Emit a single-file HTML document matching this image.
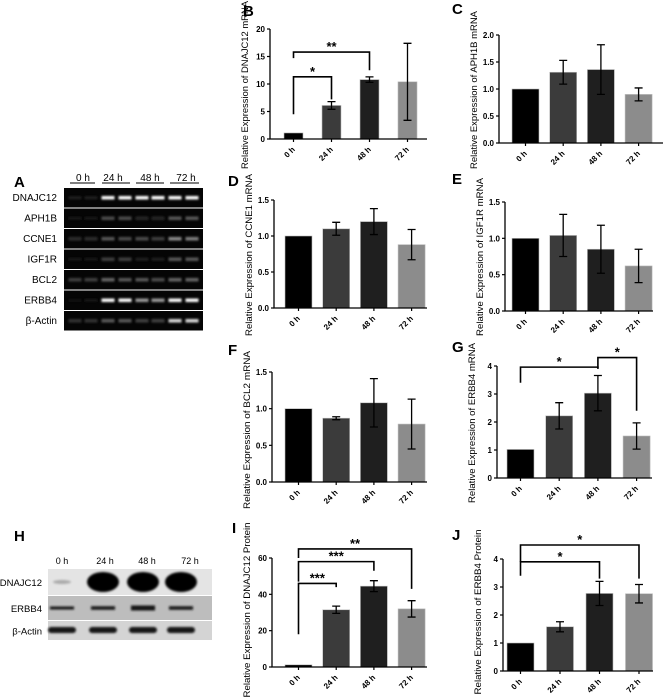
<!DOCTYPE html>
<html><head><meta charset="utf-8"><style>
html,body{margin:0;padding:0;background:#fff;}
svg{display:block;font-family:"Liberation Sans",Arial,sans-serif;}
</style></head><body>
<svg id="fig" width="664" height="699" viewBox="0 0 664 699">
<defs>
<filter id="blur1" x="-50%" y="-200%" width="200%" height="500%"><feGaussianBlur stdDeviation="1"/></filter>
</defs>
</svg>
<script>
const NS='http://www.w3.org/2000/svg';
const svg=document.getElementById('fig');
const categories=['0 h','24 h','48 h','72 h'];
const barColors=['#000000','#3b3b3b','#1f1f1f','#8c8c8c'];

const bValues=[1.1,6.1,10.8,10.4];
const bErrors=[0,0.7,0.5,7.0];
const bTicks=[0,5,10,15,20];
const cValues=[1.0,1.31,1.36,0.9];
const cErrors=[0,0.22,0.46,0.12];
const cTicks=[0,0.5,1.0,1.5,2.0];
const dValues=[1.0,1.1,1.2,0.88];
const dErrors=[0,0.09,0.18,0.21];
const dTicks=[0,0.5,1.0,1.5];
const eValues=[1.0,1.04,0.85,0.62];
const eErrors=[0,0.29,0.33,0.23];
const eTicks=[0,0.5,1.0,1.5];
const fValues=[1.0,0.87,1.08,0.79];
const fErrors=[0,0.02,0.33,0.34];
const fTicks=[0,0.5,1.0,1.5];
const gValues=[1.02,2.22,3.03,1.5];
const gErrors=[0,0.47,0.63,0.47];
const gTicks=[0,1,2,3,4];
const iValues=[1.2,31.5,44.5,32];
const iErrors=[0,2,3,4.5];
const iTicks=[0,20,40,60];
const jValues=[1.0,1.58,2.77,2.76];
const jErrors=[0,0.18,0.43,0.33];
const jTicks=[0,1,2,3,4];

// significance brackets: [fromIdx, toIdx, topValue, fromEndValue, toEndValue, label]
const bBrackets=[[0,1,11.3,4.5,7.2,'*'],[0,2,15.8,14.7,12.5,'**']];
const gBrackets=[[0,2,3.96,3.4,3.9,'*'],[2,3,4.3,3.9,2.4,'*']];
const iBrackets=[[0,1,46,18,44,'***'],[0,2,58,47,53,'***'],[0,3,65,60,43,'**']];
const jBrackets=[[0,2,3.9,3.4,3.3,'*'],[0,3,4.5,3.9,3.3,'*']];

function el(tag,attrs,parent){const e=document.createElementNS(NS,tag);for(const k in attrs)e.setAttribute(k,attrs[k]);(parent||svg).appendChild(e);return e;}
function txt(s,attrs,parent){const t=el('text',attrs,parent);t.textContent=s;return t;}

function drawPanel(key,letter,lx,ly,ax,yBase,yTop,xEnd,maxV,ticks,values,errors,brackets,title,bw,off,pitch,tlen,tmid){
  const g=el('g',{});
  
  
  const pl=txt(letter,{x:lx,y:ly,'font-size':15,'font-weight':'bold',fill:'#000'},g);
  
  
  const Y=v=>yBase-(v/maxV)*(yBase-yTop);
  const X=i=>ax+off+i*pitch;
  values.forEach((v,i)=>{
    const r=el('rect',{x:X(i),y:Y(v),width:bw,height:yBase-Y(v),fill:barColors[i],stroke:'#bbb','stroke-width':0.6},g);
    
    
  });
  values.forEach((v,i)=>{
    if(!errors[i])return;
    const cx=X(i)+bw/2, y1=Y(v+errors[i]), y2=Y(v-errors[i]);
    const e=el('path',{d:`M${cx},${y1}V${y2}M${cx-4},${y1}H${cx+4}M${cx-4},${y2}H${cx+4}`,stroke:'#000','stroke-width':1.3,fill:'none'},g);
    
    
  });
  const axes=el('path',{d:`M${ax},${yTop}V${yBase}H${xEnd}`,stroke:'#000','stroke-width':1.3,fill:'none'},g);
  
  
  ticks.forEach(t=>{
    el('line',{x1:ax-3,x2:ax,y1:Y(t),y2:Y(t),stroke:'#000','stroke-width':1.2},g);
    const tl=txt(String(maxV<=2?t.toFixed(1):t),{x:ax-5,y:Y(t)+3,'font-size':8,'font-weight':'bold','text-anchor':'end'},g);
    
    
  });
  categories.forEach((c,i)=>{
    const cx=X(i)+bw/2;
    el('line',{x1:cx,x2:cx,y1:yBase,y2:yBase+3,stroke:'#000','stroke-width':1.2},g);
    const xl=txt(c,{x:cx+2,y:yBase+11,'font-size':8,'font-weight':'bold','text-anchor':'end',transform:`rotate(-45 ${cx+2} ${yBase+11})`},g);
    
    
  });
  const mid=tmid;
  const tx=ax-22;
  const yt=txt(title,{x:tx,y:mid,'font-size':9.5,'text-anchor':'middle',textLength:tlen,lengthAdjust:'spacingAndGlyphs',transform:`rotate(-90 ${tx} ${mid})`},g);
  
  
  (brackets||[]).forEach(b=>{
    const x1=X(b[0])+bw/2,x2=X(b[1])+bw/2,yt2=Y(b[2]);
    const p=el('path',{d:`M${x1},${Y(b[3])}V${yt2}H${x2}V${Y(b[4])}`,stroke:'#000','stroke-width':1.6,fill:'none'},g);
    
    
    const s=txt(b[5],{x:(x1+x2)/2,y:yt2-1,'font-size':13,'font-weight':'bold','text-anchor':'middle'},g);
    
    
  });
}

drawPanel('b','B',243,16,270,139,29,427,20,bTicks,bValues,bErrors,bBrackets,'Relative Expression of DNAJC12 mRNA',19,14,38,168,85);
drawPanel('c','C',452,14,499,143,35,663,2,cTicks,cValues,cErrors,null,'Relative Expression of APH1B mRNA',27,13,37.7,158,90);
drawPanel('d','D',228,186,274,308,200,427,1.5,dTicks,dValues,dErrors,null,'Relative Expression of CCNE1 mRNA',27,11,37.7,162,255);
drawPanel('e','E',452,184,505,311,202,653,1.5,eTicks,eValues,eErrors,null,'Relative Expression of IGF1R mRNA',27,7,37.7,158,257);
drawPanel('f','F',228,355,272,482,372,427,1.5,fTicks,fValues,fErrors,null,'Relative Expression of BCL2 mRNA',27,13,37.7,158,430);
drawPanel('g','G',452,352,497,478,366,652,4,gTicks,gValues,gErrors,gBrackets,'Relative Expression of ERBB4 mRNA',27,10,38.7,160,423);
drawPanel('i','I',232,533,272,667,558,427,60,iTicks,iValues,iErrors,iBrackets,'Relative Expression of DNAJC12 Protein',27,13,37.7,175,610);
drawPanel('j','J',452,540,503,671,559,653,4,jTicks,jValues,jErrors,jBrackets,'Relative Expression of ERBB4 Protein',27,4,39.5,165,612);

// ---- Panel A: RT-PCR gel ----
const gelRows=['DNAJC12','APH1B','CCNE1','IGF1R','BCL2','ERBB4','β-Actin'];
const gelIntensity=[
 [0.12,0.12,1,1,1,1,1,1],
 [0.08,0.08,0.3,0.3,0.15,0.15,0.35,0.35],
 [0.18,0.18,0.35,0.3,0.3,0.25,0.55,0.5],
 [0.08,0.08,0.25,0.25,0.12,0.12,0.35,0.35],
 [0.25,0.25,0.4,0.35,0.35,0.3,0.4,0.4],
 [0.06,0.08,1,1,0.6,0.6,1,1],
 [0.2,0.2,0.35,0.35,0.25,0.25,0.85,0.85]];
const gA=el('g',{});


const la=txt('A',{x:14,y:187,'font-size':15,'font-weight':'bold'},gA);


[['0 h',83,70,95],['24 h',113,102,130],['48 h',150,136,164],['72 h',186,170,199]].forEach(h=>{
  const t=txt(h[0],{x:h[1],y:181,'font-size':10,'text-anchor':'middle'},gA);
  
  
  el('line',{x1:h[2],x2:h[3],y1:183,y2:183,stroke:'#000','stroke-width':1},gA);
});
const laneX=[75,91,108,125,142,158,175,192];
gelRows.forEach((r,ri)=>{
  const y=188+ri*20.5;
  const bg=el('rect',{x:64,y:y,width:139,height:19.5,fill:'#050505'},gA);
  
  
  const lt=txt(r,{x:57,y:y+13,'font-size':10,'text-anchor':'end'},gA);
  
  
  gelIntensity[ri].forEach((v,li)=>{
    const c=Math.round(255*v);
    const band=el('rect',{x:laneX[li]-6.5,y:y+8,width:13,height:3.5,fill:`rgb(${c},${c},${c})`,filter:'url(#blur1)'},gA);
    
    
  });
});

// ---- Panel H: western blot ----
const gH=el('g',{});


const lh=txt('H',{x:14,y:541,'font-size':15,'font-weight':'bold'},gH);


[['0 h',62],['24 h',105],['48 h',147],['72 h',190]].forEach(h=>{
  const t=txt(h[0],{x:h[1],y:564,'font-size':9,'text-anchor':'middle'},gH);
  
  
});
const blotX=[62,103,143,181];
const blotRows=[['DNAJC12',569,26,'#e4e4e4'],['ERBB4',596,24,'#bdbdbd'],['β-Actin',621,19,'#d4d4d4']];
blotRows.forEach(r=>{
  const bg=el('rect',{x:48,y:r[1],width:164,height:r[2],fill:r[3]},gH);
  
  
  const lt=txt(r[0],{x:42,y:r[1]+r[2]/2+4,'font-size':9.5,'text-anchor':'end'},gH);
  
  
});
const dnajBand=[0.15,1,1,1];
dnajBand.forEach((v,i)=>{
  const e=el('ellipse',{cx:blotX[i],cy:582,rx:v<0.5?9:16,ry:v<0.5?2:10,fill:v<0.5?'#aaa':'#050505',filter:'url(#blur1)'},gH);
  
  
});
const erbbBand=[3,3.5,5,3.5];
erbbBand.forEach((h,i)=>{
  const e=el('rect',{x:blotX[i]-12,y:608-h/2,width:24,height:h,fill:'#151515',filter:'url(#blur1)'},gH);
  
  
});
blotX.forEach(x=>{
  const e=el('rect',{x:x-14,y:627,width:28,height:6,rx:3,fill:'#151515',filter:'url(#blur1)'},gH);
  
  
});
</script>
</body></html>
